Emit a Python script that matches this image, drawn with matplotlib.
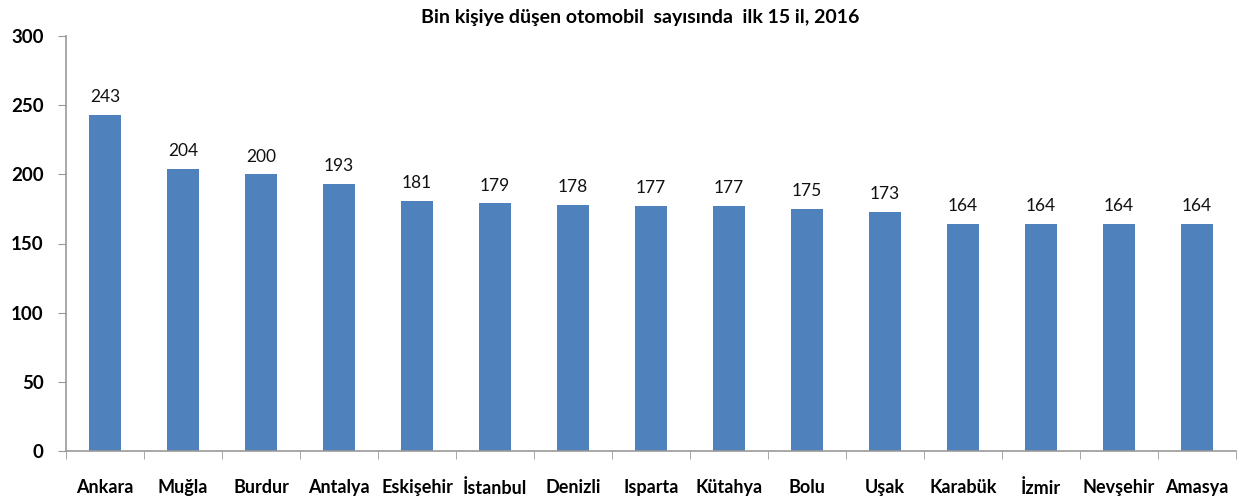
import matplotlib
matplotlib.use("Agg")
import matplotlib.pyplot as plt
import numpy as np

cities = ["Ankara", "Muğla", "Burdur", "Antalya", "Eskişehir", "İstanbul", "Denizli",
          "Isparta", "Kütahya", "Bolu", "Uşak", "Karabük", "İzmir", "Nevşehir", "Amasya"]
values = [243, 204, 200, 193, 181, 179, 178, 177, 177, 175, 173, 164, 164, 164, 164]
yticks = [0, 50, 100, 150, 200, 250, 300]
title = "Bin kişiye düşen otomobil  sayısında  ilk 15 il, 2016"

plt.rcParams['font.family'] = ["Lato", "DejaVu Sans"]

fig = plt.figure(figsize=(12.39, 5.0), dpi=100)
ax = fig.add_axes([66/1239, 1-451/500, 1170/1239, 415/500])
x = np.arange(len(cities))
ax.bar(x, values, width=0.4, color="#4F81BD", zorder=2)
for xi, v in zip(x, values):
    ax.annotate(str(v), (xi, v), xytext=(0, 7), textcoords="offset points",
                ha="center", va="bottom", fontsize=12.5, color="#111111")

ax.set_xlim(-0.5, len(cities) - 0.5)
ax.set_ylim(0, 300)
ax.set_yticks(yticks)
ax.set_yticklabels([str(t) for t in yticks], fontsize=13.5, fontweight="bold")
ax.set_xticks(x)
ax.set_xticklabels(cities, fontsize=13, fontweight="bold")
ax.set_xticks(np.arange(-0.5, len(cities)), minor=True)
ax.tick_params(axis="x", which="major", length=0, pad=20)
ax.tick_params(axis="x", which="minor", length=6, color="#999999")
ax.tick_params(axis="y", length=6, color="#999999", pad=10)
for s in ["top", "right"]:
    ax.spines[s].set_visible(False)
for s in ["left", "bottom"]:
    ax.spines[s].set_color("#999999")
    ax.spines[s].set_linewidth(1.2)

fig.text(640/1239, 1-18/500, title, ha="center", va="center", fontsize=14, fontweight="bold")
fig.savefig("out.png", dpi=100)
